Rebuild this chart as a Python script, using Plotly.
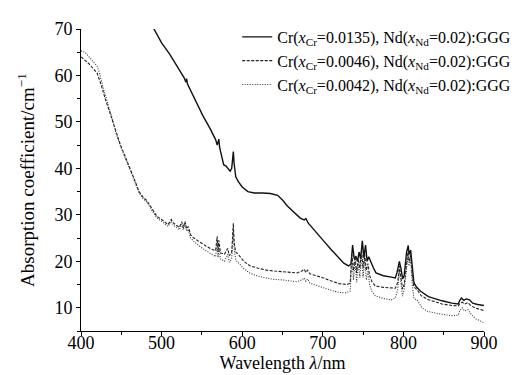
import plotly.graph_objects as go

# Sample Cr 0.0135
wl_a = [488, 495, 500, 510, 520, 528, 530, 531, 532, 540, 551, 560, 567, 569, 571, 572, 575, 577, 580, 585,
        587, 589, 590, 592, 595, 600, 607, 615, 625, 635, 644, 650, 656, 665, 672, 677, 679, 682, 690, 701,
        710, 720, 726, 732, 735, 737, 739, 741, 743, 745, 747, 749, 751, 753, 755, 757, 760, 763, 766, 775,
        785, 790, 792, 795, 797, 799, 801, 804, 806, 807, 809, 811, 813, 816, 821, 831, 840, 848, 860, 868,
        870, 872, 875, 878, 882, 886, 892, 900]
abs_a = [70.8, 68.5, 67.0, 64.6, 61.8, 59.5, 58.6, 59.3, 58.2, 55.2, 51.4, 48.6, 46.2, 45.0, 46.3, 44.5, 42.0, 40.8, 40.5, 39.4,
         40.0, 43.6, 41.0, 38.2, 37.2, 36.0, 35.0, 34.7, 34.7, 34.6, 34.2, 33.2, 31.9, 30.4, 29.3, 28.9, 29.2, 28.2, 26.5, 24.4,
         22.6, 20.8, 19.6, 19.0, 19.4, 23.5, 20.5, 21.1, 20.0, 22.0, 20.5, 24.4, 20.8, 23.5, 20.0, 21.0, 19.6, 18.5, 17.5, 16.9,
         16.6, 16.4, 17.5, 20.0, 18.5, 16.2, 17.0, 22.0, 23.4, 21.5, 22.4, 19.0, 15.4, 14.5, 13.6, 12.4, 11.9, 11.5, 11.0, 10.8,
         11.6, 12.1, 11.6, 11.9, 11.7, 11.0, 10.7, 10.5]

# Sample Cr 0.0046
wl_b = [400, 405, 410, 415, 420, 425, 430, 437, 443, 449, 455, 461, 467, 472, 477, 482, 488, 494, 500, 505,
        508, 512, 515, 518, 522, 525, 527, 529, 531, 533, 536, 540, 548, 555, 562, 567, 569, 570, 571, 573,
        578, 582, 584, 587, 589, 590, 592, 596, 602, 610, 620, 630, 640, 650, 660, 668, 674, 677, 679, 681,
        684, 690, 701, 710, 720, 730, 734, 736, 738, 740, 742, 744, 746, 748, 750, 752, 754, 756, 758, 761,
        765, 775, 790, 793, 795, 797, 799, 801, 804, 806, 807, 809, 811, 813, 817, 822, 830, 840, 848, 860,
        868, 870, 873, 876, 880, 884, 890, 900]
abs_b = [64.0, 63.3, 62.5, 61.5, 60.5, 58.0, 55.0, 51.4, 48.0, 45.0, 42.5, 40.0, 37.3, 35.0, 33.8, 33.0, 31.2, 29.7, 29.0, 28.4,
         27.9, 29.0, 28.2, 27.8, 27.3, 28.5, 27.2, 28.6, 27.0, 27.5, 25.7, 25.0, 24.0, 23.3, 22.6, 22.3, 25.4, 22.0, 24.5, 21.8,
         21.5, 22.8, 21.2, 22.0, 28.2, 24.0, 22.0, 21.3, 20.0, 19.0, 18.5, 18.1, 17.9, 17.8, 17.6, 17.5, 17.9, 18.3, 17.6, 18.1,
         17.3, 17.0, 16.4, 15.8, 15.2, 15.0, 15.3, 21.5, 18.0, 21.0, 17.5, 20.5, 18.5, 22.5, 18.5, 21.5, 18.0, 19.5, 17.0, 15.6,
         14.7, 14.4, 14.2, 15.5, 19.0, 16.5, 14.0, 15.0, 20.5, 22.5, 20.0, 21.5, 17.0, 14.5, 13.9, 12.6, 11.8, 11.2, 10.8, 10.5,
         10.4, 10.9, 11.2, 10.8, 11.1, 10.4, 9.9, 9.4]

# Sample Cr 0.0042
wl_c = [400, 405, 410, 415, 420, 423, 428, 437, 443, 449, 455, 461, 467, 472, 477, 482, 488, 494, 500, 505,
        508, 512, 515, 518, 522, 525, 527, 529, 531, 533, 536, 540, 548, 555, 562, 567, 569, 570, 571, 573,
        578, 582, 584, 587, 589, 590, 592, 596, 602, 610, 620, 630, 640, 650, 660, 668, 674, 677, 679, 681,
        684, 690, 701, 710, 720, 729, 734, 736, 738, 740, 742, 744, 746, 748, 750, 752, 754, 756, 758, 761,
        765, 775, 785, 790, 793, 795, 797, 799, 801, 804, 806, 807, 809, 811, 813, 817, 820, 823, 830, 840,
        851, 862, 868, 870, 873, 876, 880, 884, 890, 900]
abs_c = [65.3, 65.0, 64.0, 63.0, 62.0, 60.5, 57.0, 51.8, 47.8, 44.8, 42.2, 39.8, 37.0, 34.8, 33.5, 32.7, 30.9, 29.4, 28.6, 28.0,
         27.5, 28.6, 27.7, 27.3, 26.8, 28.0, 26.7, 28.2, 26.5, 26.9, 25.0, 24.3, 23.1, 22.3, 21.5, 21.0, 24.3, 20.8, 23.5, 20.5,
         20.0, 21.5, 19.8, 20.5, 27.0, 22.5, 20.3, 19.5, 18.4, 17.4, 16.8, 16.4, 16.1, 16.0, 15.8, 15.6, 16.0, 16.4, 15.7, 16.2,
         15.3, 15.0, 14.3, 13.8, 13.3, 13.2, 13.6, 20.5, 16.0, 20.0, 15.5, 19.5, 16.5, 21.5, 16.5, 20.5, 16.0, 18.0, 15.0, 13.5,
         12.6, 12.0, 11.7, 12.1, 14.0, 18.0, 15.0, 12.5, 14.0, 19.5, 21.5, 19.0, 20.5, 15.0, 12.0, 11.7, 10.8, 10.0, 9.2, 8.8,
         8.5, 8.3, 8.4, 9.4, 10.0, 9.3, 9.6, 8.6, 7.6, 6.8]

names = [
    "Cr(<i>x</i><sub>Cr</sub>=0.0135), Nd(<i>x</i><sub>Nd</sub>=0.02):GGG",
    "Cr(<i>x</i><sub>Cr</sub>=0.0046), Nd(<i>x</i><sub>Nd</sub>=0.02):GGG",
    "Cr(<i>x</i><sub>Cr</sub>=0.0042), Nd(<i>x</i><sub>Nd</sub>=0.02):GGG",
]
x_ticks = [400, 500, 600, 700, 800, 900]
y_ticks = [10, 20, 30, 40, 50, 60, 70]

FONT = "Liberation Serif"
fig = go.Figure()
fig.add_trace(go.Scatter(x=wl_a, y=abs_a, mode="lines", name=names[0],
                         line=dict(color="#111", width=1.4, dash="solid")))
fig.add_trace(go.Scatter(x=wl_b, y=abs_b, mode="lines", name=names[1],
                         line=dict(color="#222", width=1.1, dash="3px,1.5px")))
fig.add_trace(go.Scatter(x=wl_c, y=abs_c, mode="lines", name=names[2],
                         line=dict(color="#333", width=1.1, dash="1px,1.5px")))

axis_common = dict(showline=True, linecolor="black", linewidth=1, ticks="outside",
                   ticklen=4, tickwidth=1, tickcolor="black", showgrid=False, zeroline=False,
                   mirror=False, automargin=False)
fig.update_xaxes(range=[400, 900], tickvals=x_ticks, ticktext=[str(v) for v in x_ticks],
                 minor=dict(ticks="outside", ticklen=3, tickcolor="black", dtick=50, tick0=400),
                 tickfont=dict(family=FONT, size=18, color="black"),
                 ticklabelstandoff=-9,
                 title=dict(text="Wavelength <i>λ</i>/nm", font=dict(family=FONT, size=18, color="black"), standoff=0),
                 **axis_common)
fig.update_yaxes(range=[5, 70], tickvals=y_ticks, ticktext=[str(v) for v in y_ticks],
                 minor=dict(ticks="outside", ticklen=3, tickcolor="black", dtick=5, tick0=5),
                 tickfont=dict(family=FONT, size=18, color="black"),
                 title=dict(text="Absorption coefficient/cm<sup>−1</sup>", font=dict(family=FONT, size=19, color="black"), standoff=14),
                 **axis_common)
fig.update_layout(
    width=520, height=375,
    margin=dict(l=73, r=37, t=20, b=52),
    plot_bgcolor="white", paper_bgcolor="white",
    font=dict(family=FONT, color="black"),
    legend=dict(x=1.08, xanchor="right", y=1.03, yanchor="top",
                font=dict(family=FONT, size=16, color="black"),
                bgcolor="rgba(0,0,0,0)", itemwidth=30, tracegroupgap=0),
)
fig.write_html("out.html")
